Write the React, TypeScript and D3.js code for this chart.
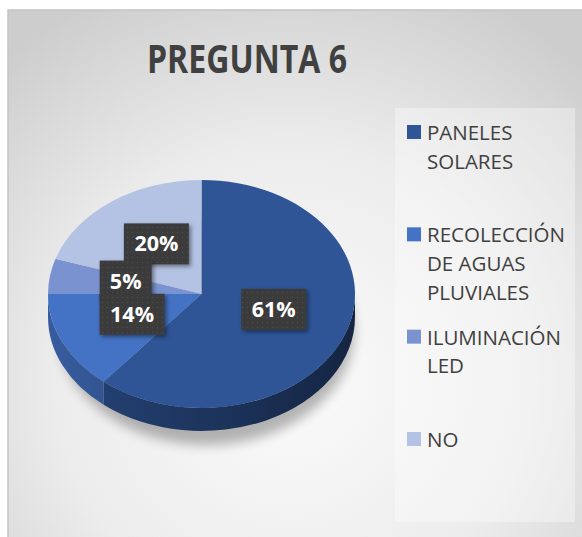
import React from "react";
import * as d3 from "d3";

// chart data
const title = "PREGUNTA 6";
const categories = ["PANELES SOLARES", "RECOLECCIÓN DE AGUAS PLUVIALES", "ILUMINACIÓN LED", "NO"];
const legendLines = [["PANELES", "SOLARES"], ["RECOLECCIÓN", "DE AGUAS", "PLUVIALES"], ["ILUMINACIÓN", "LED"], ["NO"]];
const values = [61, 14, 5, 20];
const colors = ["#2F5597", "#4472C4", "#7A93D0", "#B4C2E3"];

const W = 582;
const H = 537;
// 3d pie geometry (top ellipse + side depth)
const cx = 201.5;
const cy = 294;
const rx = 153.5;
const ry = 114;
const depth = 23;

const font = "'Open Sans', 'Noto Sans', sans-serif";

export default function App() {
  const pie = d3.pie<number>().sort(null).value(d => d);
  const arcs = pie(values);
  const total = d3.sum(values);
  const arc = d3.arc<d3.PieArcDatum<number>>().innerRadius(0).outerRadius(rx);

  const pt = (a: number, dy = 0) => [cx + rx * Math.sin(a), cy - ry * Math.cos(a) + dy];

  // front side walls, only the visible lower half
  const sides = arcs.map(a => {
    const a0 = Math.max(a.startAngle, Math.PI / 2);
    const a1 = Math.min(a.endAngle, (3 * Math.PI) / 2);
    if (a1 <= a0) return null;
    const [x0, y0] = pt(a0);
    const [x1, y1] = pt(a1);
    const large = a1 - a0 > Math.PI ? 1 : 0;
    return `M${x0},${y0}A${rx},${ry} 0 ${large} 1 ${x1},${y1}L${x1},${y1 + depth}A${rx},${ry} 0 ${large} 0 ${x0},${y0 + depth}Z`;
  });

  const labels = arcs.map((a, i) => {
    const [lx, ly] = arc.centroid(a);
    const txt = Math.round((values[i] / total) * 100) + "%";
    return { i, txt, x: cx + lx, y: cy + ly * (ry / rx) - 4, w: 13 * (txt.length + 2), h: 41 };
  });
  const labelOrder = [0, 3, 2, 1];

  const legendY = d3.scaleLinear().domain([0, categories.length - 1]).range([140, 447]);

  return (
    <svg width={W} height={H} style={{ position: "absolute", left: 0, top: 0 }}>
      <defs>
        <radialGradient id="bg" gradientUnits="userSpaceOnUse" cx={290} cy={380} r={430}>
          <stop offset="0" stopColor="#fbfbfb" />
          <stop offset="0.55" stopColor="#ececec" />
          <stop offset="1" stopColor="#cdcdcd" />
        </radialGradient>
        {colors.map((c, i) => (
          <linearGradient key={i} id={"side" + i} gradientUnits="userSpaceOnUse" x1={cx - rx} y1={0} x2={cx + rx} y2={0}>
            <stop offset="0" stopColor={d3.color(c)!.darker(0.6).formatHex()} />
            <stop offset="1" stopColor={d3.color(c)!.darker(2.3).formatHex()} />
          </linearGradient>
        ))}
        <filter id="blur" x="-30%" y="-30%" width="160%" height="160%">
          <feGaussianBlur stdDeviation="6" />
        </filter>
        <filter id="lblShadow" x="-20%" y="-20%" width="150%" height="150%">
          <feDropShadow dx="2" dy="2" stdDeviation="2" floodColor="#000" floodOpacity="0.45" />
        </filter>
        <pattern id="dots" width="5" height="5" patternUnits="userSpaceOnUse">
          <rect width="5" height="5" fill="#3b3b3b" />
          <circle cx="2.5" cy="2.5" r="0.7" fill="#4c4c4c" />
        </pattern>
      </defs>

      <rect x={8} y={10} width={W} height={H} fill="url(#bg)" stroke="#c3c3c3" strokeWidth={1.5} />
      <rect x={395} y={108} width={180} height={414} fill="#fff" opacity={0.35} />

      <text x={247} y={73} textAnchor="middle" fontFamily={font} fontWeight="bold" fontSize={40}
        fill="#404040" textLength={200} lengthAdjust="spacingAndGlyphs">
        {title}
      </text>

      {/* shadow under pie */}
      <ellipse cx={cx + 5} cy={cy + depth + 14} rx={rx - 6} ry={ry} fill="#000" opacity={0.28} filter="url(#blur)" />

      {sides.map((d, i) => d && <path key={"s" + i} d={d} fill={`url(#side${i})`} />)}

      <g transform={`translate(${cx},${cy}) scale(1,${ry / rx})`}>
        {arcs.map((a, i) => (
          <path key={i} d={arc(a) || ""} fill={colors[i]} />
        ))}
      </g>

      {labelOrder.map(k => {
        const l = labels[k];
        return (
          <g key={"l" + k}>
            <rect x={l.x - l.w / 2} y={l.y - l.h / 2} width={l.w} height={l.h} fill="url(#dots)" filter="url(#lblShadow)" />
            <text x={l.x} y={l.y + 7.5} textAnchor="middle" fontFamily={font} fontWeight="bold" fontSize={21.5} fill="#fff">
              {l.txt}
            </text>
          </g>
        );
      })}

      {categories.map((c, i) => (
        <g key={c}>
          <rect x={407} y={legendY(i) - 15} width={14} height={14} fill={colors[i]} />
          <text fontFamily={font} fontSize={20.5} fill="#404040">
            {legendLines[i].map((ln, j) => (
              <tspan key={j} x={427} y={legendY(i) + j * 28.6}>{ln}</tspan>
            ))}
          </text>
        </g>
      ))}
    </svg>
  );
}
